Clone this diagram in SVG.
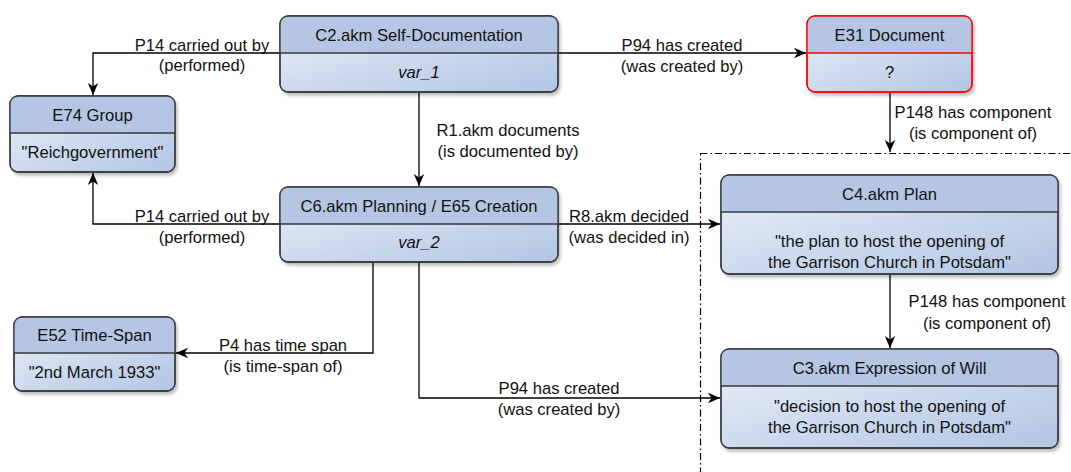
<svg xmlns="http://www.w3.org/2000/svg" width="1071" height="472" viewBox="0 0 1071 472">
<style>
text{font-family:"Liberation Sans",Arial,sans-serif;font-size:16.6px;fill:#111;text-anchor:middle}
.it{font-style:italic}
.hd{fill:#b4c6e3}
.bx{fill:url(#g);stroke:#36393d;stroke-width:1.3}
.red{stroke:#ff0000}
.dv{stroke:#36393d;stroke-width:1.3}
.dvr{stroke:#ff0000;stroke-width:1.3}
.c{fill:none;stroke:#000;stroke-width:1.3;marker-end:url(#a)}
.fr{fill:none;stroke:#000;stroke-width:1.2;stroke-dasharray:7 3 1.5 3}
</style>
<defs>
<linearGradient id="g" x1="0" y1="0" x2="1" y2="1">
<stop offset="0" stop-color="#eaf0f9"/>
<stop offset="1" stop-color="#b2c5e3"/>
</linearGradient>
<filter id="sh" x="-5%" y="-5%" width="115%" height="125%">
<feDropShadow dx="2" dy="3" stdDeviation="1.5" flood-color="#000" flood-opacity="0.25"/>
</filter>
<marker id="a" markerWidth="13" markerHeight="12" refX="12" refY="6" orient="auto" markerUnits="userSpaceOnUse">
<path d="M0,0.8 L12,6 L0,11.2 L3.5,6 Z" fill="#000"/>
</marker>
</defs>
<rect class="fr" x="700.5" y="153.5" width="500" height="400"/>
<g id="connectors">
<path class="c" d="M280,53 H93 V95"/>
<text x="202" y="51">P14 carried out by</text><text x="202" y="71">(performed)</text>
<path class="c" d="M558,53 H806"/>
<text x="682" y="51">P94 has created</text><text x="682" y="72">(was created by)</text>
<path class="c" d="M890,92 V152"/>
<text x="973" y="118">P148 has component</text><text x="973" y="139">(is component of)</text>
<path class="c" d="M419,92 V186"/>
<text x="508" y="136">R1.akm documents</text><text x="508" y="157">(is documented by)</text>
<path class="c" d="M280,224 H93 V173"/>
<text x="202" y="222">P14 carried out by</text><text x="202" y="243">(performed)</text>
<path class="c" d="M558,224 H720"/>
<text x="629" y="222">R8.akm decided</text><text x="629" y="243">(was decided in)</text>
<path class="c" d="M890,274 V348"/>
<text x="987" y="307">P148 has component</text><text x="987" y="329">(is component of)</text>
<path class="c" d="M373,262 V353 H176"/>
<text x="283" y="351">P4 has time span</text><text x="283" y="372">(is time-span of)</text>
<path class="c" d="M419,262 V398 H720"/>
<text x="559" y="394">P94 has created</text><text x="559" y="415">(was created by)</text>
</g>
<g id="C2">
<rect class="bx" x="280" y="16" width="278" height="76" rx="8" filter="url(#sh)"/>
<path class="hd" d="M280,53 V24 A8,8 0 0 1 288,16 H550 A8,8 0 0 1 558,24 V53 Z"/>
<line class="dv" x1="280" y1="53" x2="558" y2="53"/>
<rect x="280" y="16" width="278" height="76" rx="8" fill="none" stroke="#36393d" stroke-width="1.3"/>
<text x="419" y="41">C2.akm Self-Documentation</text>
<text class="it" x="419" y="78">var_1</text>
</g>
<g id="E31">
<rect class="bx red" x="807" y="16" width="165" height="76" rx="8" filter="url(#sh)"/>
<path class="hd" d="M807,53 V24 A8,8 0 0 1 815,16 H964 A8,8 0 0 1 972,24 V53 Z"/>
<line class="dvr" x1="807" y1="53" x2="972" y2="53"/>
<rect x="807" y="16" width="165" height="76" rx="8" fill="none" stroke="#ff0000" stroke-width="1.3"/>
<text x="889.5" y="41">E31 Document</text>
<text x="889.5" y="78">?</text>
</g>
<g id="E74">
<rect class="bx" x="10" y="96" width="165" height="76" rx="8" filter="url(#sh)"/>
<path class="hd" d="M10,133 V104 A8,8 0 0 1 18,96 H167 A8,8 0 0 1 175,104 V133 Z"/>
<line class="dv" x1="10" y1="133" x2="175" y2="133"/>
<rect x="10" y="96" width="165" height="76" rx="8" fill="none" stroke="#36393d" stroke-width="1.3"/>
<text x="92.5" y="121">E74 Group</text>
<text x="92.5" y="158">"Reichgovernment"</text>
</g>
<g id="C6">
<rect class="bx" x="280" y="187" width="278" height="75" rx="8" filter="url(#sh)"/>
<path class="hd" d="M280,224 V195 A8,8 0 0 1 288,187 H550 A8,8 0 0 1 558,195 V224 Z"/>
<line class="dv" x1="280" y1="224" x2="558" y2="224"/>
<rect x="280" y="187" width="278" height="75" rx="8" fill="none" stroke="#36393d" stroke-width="1.3"/>
<text x="419" y="212">C6.akm Planning / E65 Creation</text>
<text class="it" x="419" y="248">var_2</text>
</g>
<g id="E52">
<rect class="bx" x="14" y="317" width="161" height="74" rx="8" filter="url(#sh)"/>
<path class="hd" d="M14,353 V325 A8,8 0 0 1 22,317 H167 A8,8 0 0 1 175,325 V353 Z"/>
<line class="dv" x1="14" y1="353" x2="175" y2="353"/>
<rect x="14" y="317" width="161" height="74" rx="8" fill="none" stroke="#36393d" stroke-width="1.3"/>
<text x="94.5" y="341">E52 Time-Span</text>
<text x="94.5" y="378">"2nd March 1933"</text>
</g>
<g id="C4">
<rect class="bx" x="721" y="175" width="337" height="99" rx="8" filter="url(#sh)"/>
<path class="hd" d="M721,212 V183 A8,8 0 0 1 729,175 H1050 A8,8 0 0 1 1058,183 V212 Z"/>
<line class="dv" x1="721" y1="212" x2="1058" y2="212"/>
<rect x="721" y="175" width="337" height="99" rx="8" fill="none" stroke="#36393d" stroke-width="1.3"/>
<text x="889.5" y="200">C4.akm Plan</text>
<text x="889.5" y="247">"the plan to host the opening of</text>
<text x="889.5" y="268">the Garrison Church in Potsdam"</text>
</g>
<g id="C3">
<rect class="bx" x="721" y="349" width="337" height="99" rx="8" filter="url(#sh)"/>
<path class="hd" d="M721,386 V357 A8,8 0 0 1 729,349 H1050 A8,8 0 0 1 1058,357 V386 Z"/>
<line class="dv" x1="721" y1="386" x2="1058" y2="386"/>
<rect x="721" y="349" width="337" height="99" rx="8" fill="none" stroke="#36393d" stroke-width="1.3"/>
<text x="889.5" y="374">C3.akm Expression of Will</text>
<text x="889.5" y="412">"decision to host the opening of</text>
<text x="889.5" y="433">the Garrison Church in Potsdam"</text>
</g>
</svg>
